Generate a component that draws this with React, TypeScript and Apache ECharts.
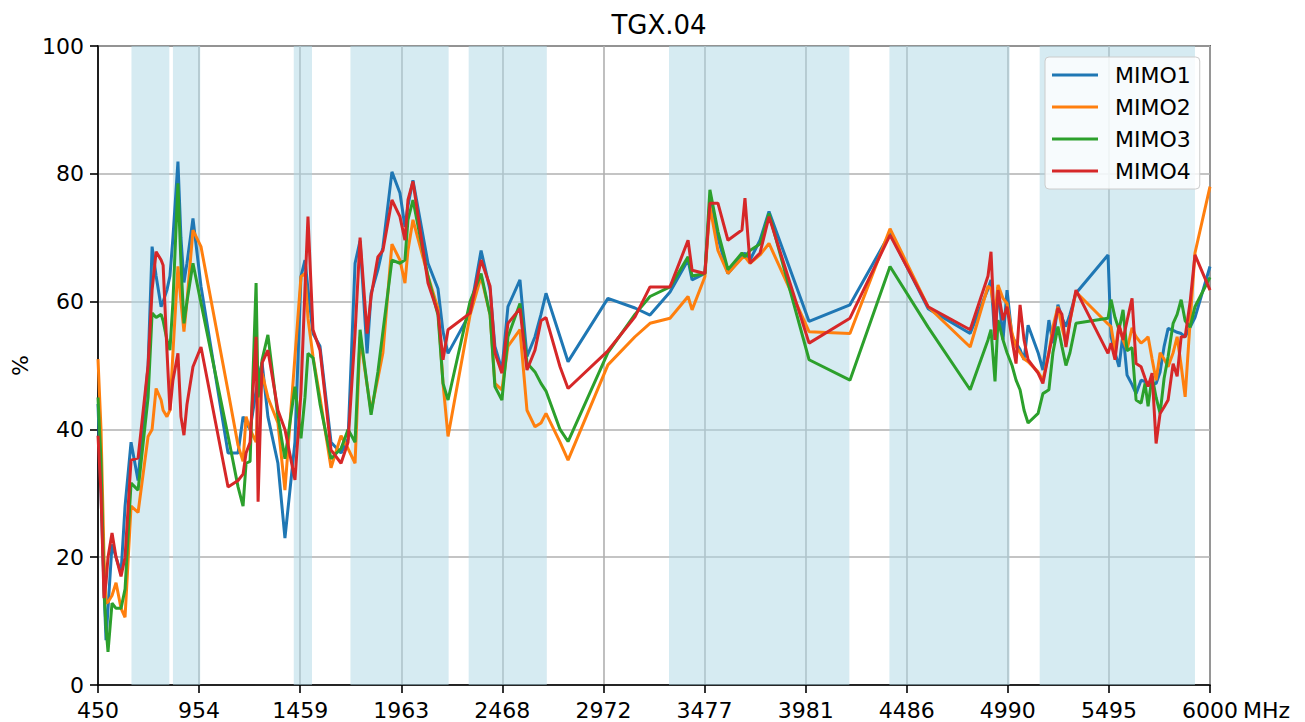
import React, { useEffect, useRef } from "react";
import * as echarts from "echarts";

const freqMHz = [
  450, 465, 480, 490, 500, 520, 540, 565, 585, 615,
  650, 700, 720, 740, 765, 775, 794, 809, 824, 849,
  864, 879, 894, 924, 964, 1099, 1149, 1174, 1189, 1209,
  1239, 1249, 1269, 1298, 1348, 1383, 1433, 1463, 1483, 1498,
  1523, 1558, 1613, 1663, 1698, 1733, 1758, 1793, 1813, 1847,
  1872, 1917, 1957, 1982, 1997, 2022, 2097, 2147, 2172, 2197,
  2307, 2362, 2407, 2431, 2466, 2496, 2556, 2591, 2631, 2661,
  2686, 2756, 2796, 2995, 3130, 3205, 3305, 3395, 3415, 3479,
  3504, 3544, 3594, 3664, 3679, 3704, 3754, 3799, 3999, 4203,
  4403, 4593, 4803, 4892, 4907, 4927, 4942, 4967, 4987, 5012,
  5032, 5052, 5072, 5092, 5142, 5166, 5196, 5216, 5241, 5261,
  5281, 5301, 5331, 5491, 5506, 5526, 5546, 5566, 5586, 5611,
  5631, 5656, 5676, 5691, 5711, 5731, 5751, 5771, 5791, 5816,
  5836, 5856, 5876, 5901, 5925, 6000,
];

const mimo1 = [
  44, 30, 15, 7, 12, 22, 20, 17.5, 28, 38,
  32, 50, 68.6, 64, 59.2, 60, 61.8, 64, 70, 81.9,
  70, 63, 66, 73, 62.4, 36.3, 36.3, 42, 41, 40,
  46, 48, 50.4, 42, 34.7, 23, 38, 63.9, 66.5, 62,
  55, 53, 38, 36.3, 38.5, 66, 69.5, 51.9, 61.3, 65,
  68.5, 80.3, 77, 71.7, 75, 79, 66, 62, 55.3, 51.9,
  58.2, 68, 61.8, 53, 49.3, 59.2, 63.4, 51.4, 54.5, 58,
  61.3, 54.5, 50.6, 60.5, 59, 57.9, 61.5, 66.5, 63.4, 64.4,
  75.9, 70, 64.4, 67, 67.6, 66.5, 69.6, 74.1, 56.9, 59.5,
  70.7, 58.9, 55, 62, 63.4, 54, 62.3, 54, 61.8, 54.5,
  53.5, 52.5, 50.9, 56.3, 52, 49.3, 57.1, 53.5, 59.5, 57.5,
  56.1, 58, 61.3, 67.3, 54.5, 52, 49.8, 55, 48.5, 47,
  45.6, 47.7, 47.5, 47.2, 47, 47.2, 49, 53, 55.8, 55.5,
  55.2, 55, 54.5, 56, 57.5, 65.5,
];

const mimo2 = [
  51, 40, 20, 12.8, 13, 14, 16, 12, 10.6, 28,
  27, 38.9, 40, 46.4, 44.6, 43, 42, 43, 52, 65.5,
  60, 55.3, 60, 71.2, 68.6, 46, 37.5, 35, 42, 40,
  38, 45, 48.8, 45, 41, 30.5, 51.4, 63.9, 64.4, 57.4,
  51.4, 45, 34, 39, 37, 34.7, 54.5, 47, 42.8, 48,
  52, 69, 66.5, 62.9, 68, 72.8, 64, 58.9, 47.2, 38.9,
  57.9, 63.9, 57.9, 47.2, 46.2, 53, 55.6, 43, 40.4, 41,
  42.5, 38, 35.2, 50.1, 54.5, 56.6, 57.4, 60.8, 58.7, 63.9,
  74.9, 68, 64.4, 66.8, 67, 66, 67.3, 69.1, 55.3, 55,
  71.4, 59.2, 52.9, 62.4, 62, 58, 62.6, 60.5, 59.7, 55,
  53, 52, 51, 50.6, 49, 47.7, 52, 56, 59.2, 56,
  53.5, 57, 61.5, 56.5, 56.1, 52.3, 56.3, 54, 52.5, 55.9,
  54.5, 53.5, 54, 54.5, 51, 47.7, 52, 51, 49.8, 52,
  54.5, 50, 45.1, 57, 67.6, 78,
];

const mimo3 = [
  45, 35, 15, 9, 5.2, 12.8, 12, 12, 15, 31.6,
  30.5, 45, 58.2, 57.5, 58, 57, 54, 52.4, 60, 78.5,
  66, 56.6, 60, 66, 59.8, 39, 31, 28, 34.7, 35,
  62.9, 45, 50.9, 54.8, 42, 35.4, 46.7, 38.6, 45, 51.9,
  51.2, 44, 35.4, 37, 40, 38, 55.6, 47, 42.3, 49,
  55.3, 66.5, 66, 66.5, 72.8, 75.9, 63.9, 57.9, 47.2, 44.6,
  60, 64.4, 57.9, 46.7, 44.6, 54.5, 59.7, 50.4, 49, 47.2,
  46, 40, 38.1, 52, 58, 60.8, 62.3, 67, 64, 64.4,
  77.5, 71, 65, 67.6, 67, 68, 69, 73.8, 50.9, 47.7,
  65.5, 56, 46.2, 54, 55.6, 47.5, 57.1, 54, 52, 50,
  47.7, 46.2, 43, 41, 42.5, 45.6, 46.2, 52, 56.1, 53,
  50, 52, 56.6, 57.4, 60.3, 57.5, 55.6, 58.7, 52.3, 52.8,
  44.6, 44.1, 47.2, 43.6, 48.3, 45, 42.5, 48, 51.4, 56.6,
  58, 60.3, 57, 56, 59.2, 63.8,
];

const mimo4 = [
  39, 30, 13.6, 16, 20, 23.8, 20, 17, 20, 35.2,
  35.5, 50, 61.8, 67.8, 66.5, 65.7, 52.4, 43, 47.7, 51.9,
  42, 39.1, 43.9, 49.8, 52.9, 31, 32, 33, 36.3, 38,
  54.5, 28.7, 50.4, 52.4, 43, 40, 32.1, 45.8, 62, 73.3,
  55.6, 52.4, 36.8, 34.7, 38, 55, 70, 55, 60.8, 67,
  68, 75.9, 73.3, 69.6, 75.9, 78.8, 62.9, 58.2, 50.9, 55.6,
  58.2, 66.5, 62.4, 52, 48.8, 56.6, 58.9, 49.3, 52.4, 57,
  57.5, 49.8, 46.4, 52.3, 57.6, 62.3, 62.3, 69.6, 64.9, 64.4,
  75.4, 75.4, 69.6, 71.2, 76.2, 66, 67.6, 73.3, 53.5, 57.4,
  70.4, 59.2, 55.6, 64, 67.8, 54, 61.8, 57.1, 59.2, 54,
  50.3, 59.5, 54, 50.9, 48.8, 47.2, 52, 55, 59, 58,
  52.9, 57, 61.8, 51.9, 53.5, 50.9, 56.3, 54, 57, 60.5,
  50.3, 49.8, 48, 46.7, 48.8, 37.8, 42.5, 43.5, 44.6, 50.3,
  48.3, 54.5, 54.5, 60, 67.3, 61.8,
];

const seriesNames = ["MIMO1", "MIMO2", "MIMO3", "MIMO4"];
const seriesColors = ["#1f77b4", "#ff7f0e", "#2ca02c", "#d62728"];
const seriesValues = [mimo1, mimo2, mimo3, mimo4];

// shaded frequency bands (MHz)
const bands = [
  [617, 806], [824, 960], [1427, 1518], [1710, 2200],
  [2300, 2690], [3300, 4200], [4400, 5000], [5150, 5925],
];

const xMin = 450;
const xMax = 6000;
const xTickCount = 11;
const yTicks = [0, 20, 40, 60, 80, 100];

const FONT = "DejaVu Sans";

export default function App() {
  const ref = useRef<HTMLDivElement>(null);
  useEffect(() => {
    if (!ref.current) return;
    const chart = echarts.init(ref.current, null, { renderer: "svg" });
    const step = (xMax - xMin) / xTickCount;
    const toX = (f: number) => (f - xMin) / step;

    const series: any[] = seriesNames.map((name, i) => ({
      name,
      type: "line",
      data: freqMHz.map((f, k) => [toX(f), seriesValues[i][k]]),
      showSymbol: false,
      symbol: "none",
      lineStyle: { color: seriesColors[i], width: 3 },
      itemStyle: { color: seriesColors[i] },
      z: 3 + i,
      ...(i === 0
        ? {
            markArea: {
              silent: true,
              z: 1,
              itemStyle: { color: "rgba(173,216,230,0.5)" },
              data: bands.map(([a, b]) => [{ xAxis: toX(a) }, { xAxis: toX(b) }]),
            },
          }
        : {}),
    }));

    chart.setOption({
      animation: false,
      backgroundColor: "#ffffff",
      textStyle: { fontFamily: FONT },
      title: {
        text: "TGX.04",
        left: 654,
        textAlign: "center",
        top: 7,
        textStyle: { fontFamily: FONT, fontSize: 26, fontWeight: "normal", color: "#000" },
      },
      grid: {
        left: 98,
        right: 95,
        top: 46,
        bottom: 37,
        show: true,
        borderColor: "#000",
        borderWidth: 1.6,
        backgroundColor: "transparent",
        containLabel: false,
        outerBoundsMode: "none",
      },
      legend: {
        data: seriesNames,
        orient: "vertical",
        left: 1045,
        top: 57,
        icon: "rect",
        itemWidth: 46,
        itemHeight: 3,
        itemGap: 10,
        padding: [7, 9, 7, 7],
        backgroundColor: "rgba(255,255,255,0.8)",
        borderColor: "#cccccc",
        borderWidth: 1,
        borderRadius: 4,
        textStyle: {
          fontFamily: FONT,
          fontSize: 22,
          color: "#000",
          lineHeight: 22,
          padding: [0, 0, 0, 12],
        },
      },
      xAxis: {
        type: "value",
        min: 0,
        max: xTickCount,
        interval: 1,
        axisLine: { show: true, lineStyle: { color: "#000", width: 1.6 } },
        axisTick: { show: true, length: 8, lineStyle: { color: "#000", width: 1.6 } },
        axisLabel: {
          show: true,
          margin: 14,
          fontFamily: FONT,
          fontSize: 22,
          color: "#000",
          showMinLabel: true,
          showMaxLabel: true,
          formatter: (v: number) => String(Math.floor(xMin + v * step + 1e-6)),
        },
        splitLine: { show: true, lineStyle: { color: "#b0b0b0", width: 1.6 } },
      },
      yAxis: {
        type: "value",
        min: yTicks[0],
        max: yTicks[yTicks.length - 1],
        interval: 20,
        name: "%",
        nameLocation: "middle",
        nameGap: 66,
        nameRotate: 90,
        nameTextStyle: { fontFamily: FONT, fontSize: 22, color: "#000" },
        axisLine: { show: true, lineStyle: { color: "#000", width: 1.6 } },
        axisTick: { show: true, length: 8, lineStyle: { color: "#000", width: 1.6 } },
        axisLabel: { margin: 14, fontFamily: FONT, fontSize: 22, color: "#000" },
        splitLine: { show: true, lineStyle: { color: "#b0b0b0", width: 1.6 } },
      },
      graphic: [
        {
          type: "text",
          left: 1243,
          top: 699,
          style: { text: "MHz", fontFamily: FONT, fontSize: 22, fill: "#000" },
        },
      ],
      series,
    });
    return () => chart.dispose();
  }, []);
  return (
    <div
      ref={ref}
      style={{ position: "fixed", left: 0, top: 0, width: 1305, height: 722, background: "#fff" }}
    />
  );
}
